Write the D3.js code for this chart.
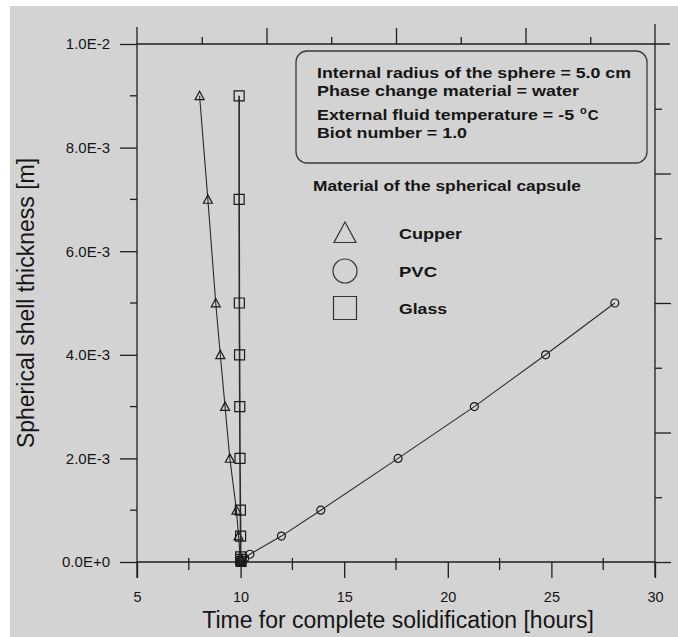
<!DOCTYPE html>
<html>
<head>
<meta charset="utf-8">
<script src="https://cdn.jsdelivr.net/npm/d3@7"></script>
<style>
  html, body { margin: 0; padding: 0; background: #ffffff; }
  svg { display: block; }
  text { font-family: "Liberation Sans", Arial, Helvetica, sans-serif; fill: #151515; }
</style>
</head>
<body>
<svg id="chart" width="678" height="637"></svg>
<script>
// Solidification time vs. shell thickness for three capsule materials
const xTicks = [5, 10, 15, 20, 25, 30];
const xMinorTicks = [7.5, 12.5, 17.5, 22.5, 27.5];
const yTicks = [0, 0.002, 0.004, 0.006, 0.008, 0.010];
const yTickLabels = ["0.0E+0", "2.0E-3", "4.0E-3", "6.0E-3", "8.0E-3", "1.0E-2"];
const yMinorTicks = [0.001, 0.003, 0.005, 0.007, 0.009];

const cupperTime      = [10.02, 10.0, 9.98, 9.9, 9.8, 9.48, 9.25, 9.02, 8.8, 8.42, 8.02];
const cupperThickness = [0.00001, 0.00005, 0.0001, 0.0005, 0.001, 0.002, 0.003, 0.004, 0.005, 0.007, 0.009];

const pvcTime      = [10.0, 10.08, 10.2, 10.45, 11.97, 13.87, 17.6, 21.28, 24.72, 28.06];
const pvcThickness = [0.00001, 0.00003, 0.00007, 0.00015, 0.0005, 0.001, 0.002, 0.003, 0.004, 0.005];

const glassTime      = [10.02, 10.0, 10.0, 10.0, 9.99, 9.97, 9.96, 9.95, 9.94, 9.93, 9.93];
const glassThickness = [0.00001, 0.00005, 0.0001, 0.0005, 0.001, 0.002, 0.003, 0.004, 0.005, 0.007, 0.009];

const infoLines = [
  "Internal radius of the sphere = 5.0 cm",
  "Phase change material = water",
  "External fluid temperature = -5 ",
  "Biot number = 1.0"
];
const legendTitle = "Material of the spherical capsule";
const seriesNames = ["Cupper", "PVC", "Glass"];

const svg = d3.select("#chart");
const ink = "#1e1e1e";

// paper background (scanned page area)
svg.append("rect").attr("x", 10).attr("y", 6).attr("width", 668).attr("height", 631).attr("fill", "#d3d3d3");

const x = d3.scaleLinear().domain([5, 30]).range([137, 655]);
const y = d3.scaleLinear().domain([0, 0.01]).range([562, 44]);
// unlabelled divisions of the top and right frame edges
const xTop = d3.scaleLinear().domain([0, 8]).range([x(5), x(30)]);
const yRight = d3.scaleLinear().domain([0, 8]).range([y(0), y(0.01)]);

const frame = svg.append("g").attr("stroke", ink).attr("stroke-width", 1.3).attr("fill", "none");
frame.append("line").attr("x1", x(5)).attr("x2", x(5)).attr("y1", y(0.01) - 17).attr("y2", y(0) + 16);
frame.append("line").attr("x1", x(30)).attr("x2", x(30)).attr("y1", y(0.01) - 20).attr("y2", y(0) + 15);
frame.append("line").attr("x1", x(5)).attr("x2", x(30) + 15).attr("y1", y(0.01)).attr("y2", y(0.01));
frame.append("line").attr("x1", x(5)).attr("x2", x(30)).attr("y1", y(0)).attr("y2", y(0));

function styleAxis(g) {
  g.select(".domain").remove();
  g.selectAll(".tick line").attr("stroke", ink).attr("stroke-width", 1.3);
  g.selectAll(".tick text").attr("fill", "#1a1a1a");
}

// bottom axis
svg.append("g").attr("transform", `translate(0,${y(0)})`)
  .call(d3.axisBottom(x).tickValues(xTicks).tickFormat(d3.format("d")).tickSizeInner(16).tickSizeOuter(0).tickPadding(14))
  .call(styleAxis)
  .call(g => g.selectAll("text").attr("font-size", 14.5).attr("font-family", "Liberation Sans, Arial, sans-serif"));
svg.append("g").selectAll("line").data(xMinorTicks).join("line")
  .attr("x1", d => x(d)).attr("x2", d => x(d)).attr("y1", y(0) - 4).attr("y2", y(0) + 8)
  .attr("stroke", ink).attr("stroke-width", 1.3);

// left axis
svg.append("g").attr("transform", `translate(${x(5)},0)`)
  .call(d3.axisLeft(y).tickValues(yTicks).tickFormat((d, i) => yTickLabels[i]).tickSizeInner(17).tickSizeOuter(0).tickPadding(10))
  .call(styleAxis)
  .call(g => g.selectAll("text").attr("font-size", 15).attr("font-family", "Liberation Sans, Arial, sans-serif"));
svg.append("g").selectAll("line").data(yMinorTicks).join("line")
  .attr("x1", x(5) - 7).attr("x2", x(5)).attr("y1", d => y(d)).attr("y2", d => y(d))
  .attr("stroke", ink).attr("stroke-width", 1.3);

// top and right edge ticks
svg.append("g").attr("transform", `translate(0,${y(0.01)})`)
  .call(d3.axisTop(xTop).tickValues([2, 4, 6]).tickFormat("").tickSizeInner(16).tickSizeOuter(0))
  .call(styleAxis);
svg.append("g").attr("transform", `translate(0,${y(0.01)})`)
  .call(d3.axisTop(xTop).tickValues([1, 3, 5, 7]).tickFormat("").tickSizeInner(7).tickSizeOuter(0))
  .call(styleAxis);
svg.append("g").attr("transform", `translate(${x(30)},0)`)
  .call(d3.axisRight(yRight).tickValues([0, 2, 4, 6]).tickFormat("").tickSizeInner(16).tickSizeOuter(0))
  .call(styleAxis);
svg.append("g").attr("transform", `translate(${x(30)},0)`)
  .call(d3.axisRight(yRight).tickValues([1, 3, 5, 7]).tickFormat("").tickSizeInner(7).tickSizeOuter(0))
  .call(styleAxis);

// axis titles
svg.append("text").attr("x", 398).attr("y", 628).attr("text-anchor", "middle")
  .attr("font-size", 23).text("Time for complete solidification [hours]");
svg.append("text").attr("transform", "translate(34,303) rotate(-90)").attr("text-anchor", "middle")
  .attr("font-size", 23).text("Spherical shell thickness [m]");

// series
const series = [
  { name: "Cupper", t: cupperTime, s: cupperThickness, shape: "triangle", size: 9, lw: 1.1 },
  { name: "PVC",    t: pvcTime,    s: pvcThickness,    shape: "circle",   size: 8, lw: 1.1 },
  { name: "Glass",  t: glassTime,  s: glassThickness,  shape: "square",   size: 10, lw: 1.6 }
];

function markerPath(shape, size) {
  const h = size / 2;
  if (shape === "triangle") return `M0,${-h}L${h},${h * 0.85}L${-h},${h * 0.85}Z`;
  if (shape === "square") return `M${-h},${-h}H${h}V${h}H${-h}Z`;
  const p = d3.path(); p.arc(0, 0, h, 0, 2 * Math.PI); return p.toString();
}

const line = d3.line().x(d => x(d[0])).y(d => y(d[1]));
const plot = svg.append("g");
series.forEach(sr => {
  const pts = sr.t.map((t, i) => [t, sr.s[i]]);
  plot.append("path").datum(pts).attr("d", line)
    .attr("fill", "none").attr("stroke", "#2a2a2a").attr("stroke-width", sr.lw);
  plot.append("g").selectAll("path").data(pts).join("path")
    .attr("transform", d => `translate(${x(d[0])},${y(d[1])})`)
    .attr("d", markerPath(sr.shape, sr.size))
    .attr("fill", "none").attr("stroke", "#1a1a1a").attr("stroke-width", 1.2);
});

// information box
const box = svg.append("g");
box.append("rect").attr("x", 296).attr("y", 51).attr("width", 351).attr("height", 112).attr("rx", 11)
  .attr("fill", "none").attr("stroke", "#3a3a3a").attr("stroke-width", 1.3);
const infoY = [77.5, 96, 119.5, 137.5];
const infoW = [314, 262, 262, 150];
infoLines.forEach((s, i) => {
  const t = box.append("text").attr("x", 317).attr("y", infoY[i]).attr("font-size", 15).attr("font-weight", "bold");
  if (i === 2) {
    t.append("tspan").text(s).attr("textLength", infoW[i]).attr("lengthAdjust", "spacingAndGlyphs");
    t.append("tspan").attr("font-size", 11).attr("dy", -6).attr("dx", 1).text("o");
    t.append("tspan").attr("dy", 6).attr("dx", 1).text("C");
  } else {
    t.text(s).attr("textLength", infoW[i]).attr("lengthAdjust", "spacingAndGlyphs");
  }
});

// legend
svg.append("text").attr("x", 313).attr("y", 191).attr("font-size", 15).attr("font-weight", "bold")
  .attr("textLength", 268).attr("lengthAdjust", "spacingAndGlyphs").text(legendTitle);
const legY = [233, 271, 308];
const legW = [63, 38, 48];
const legShapes = [
  `M0,-11L11,9.5L-11,9.5Z`,
  markerPath("circle", 24),
  markerPath("square", 23)
];
seriesNames.forEach((n, i) => {
  svg.append("path").attr("transform", `translate(345,${legY[i]})`).attr("d", legShapes[i])
    .attr("fill", "none").attr("stroke", "#333").attr("stroke-width", 1.2);
  svg.append("text").attr("x", 399).attr("y", legY[i] + 5.5).attr("font-size", 15).attr("font-weight", "bold")
    .attr("textLength", legW[i]).attr("lengthAdjust", "spacingAndGlyphs").text(n);
});
</script>
</body>
</html>
